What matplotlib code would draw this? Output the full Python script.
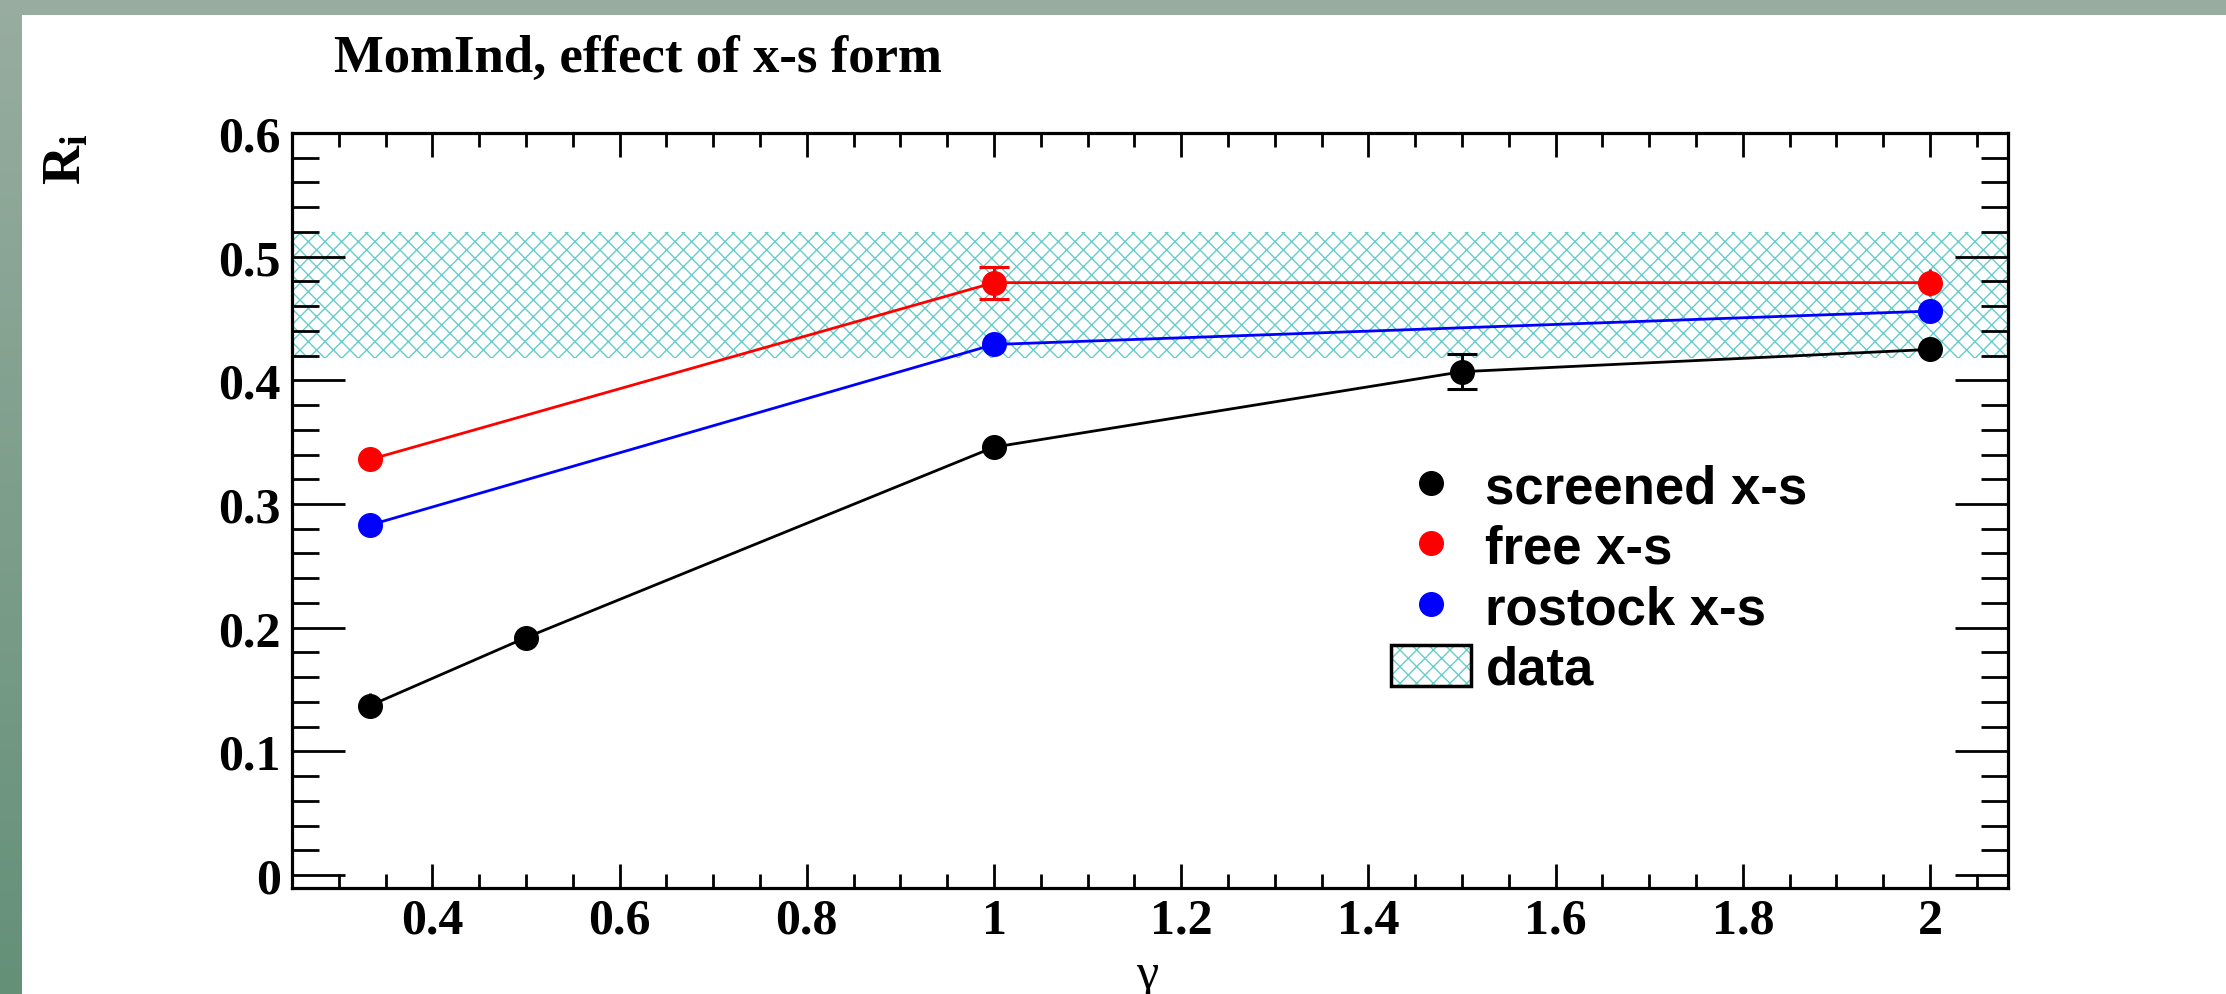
import numpy as np
import matplotlib
matplotlib.use("Agg")
import matplotlib.pyplot as plt
import matplotlib.ticker as mticker
from matplotlib.patches import Rectangle, Patch
from matplotlib.lines import Line2D

plt.rcParams['hatch.linewidth'] = 1.0
plt.rcParams['mathtext.fontset'] = 'custom'
plt.rcParams['mathtext.rm'] = 'Liberation Serif:bold'
plt.rcParams['mathtext.it'] = 'Liberation Serif:italic:bold'

# values
gamma_screened = [1 / 3, 0.5, 1.0, 1.5, 2.0]
r_screened = [0.137, 0.192, 0.346, 0.407, 0.425]
err_screened = [0.010, 0.008, 0.008, 0.014, 0.008]

gamma_free = [1 / 3, 1.0, 2.0]
r_free = [0.336, 0.479, 0.479]
err_free = [0.008, 0.013, 0.011]

gamma_rostock = [1 / 3, 1.0, 2.0]
r_rostock = [0.283, 0.429, 0.456]
err_rostock = [0.006, 0.006, 0.009]

data_band = (0.418, 0.520)

series = [
    ("screened x-s", gamma_screened, r_screened, err_screened, "black"),
    ("free x-s", gamma_free, r_free, err_free, "red"),
    ("rostock x-s", gamma_rostock, r_rostock, err_rostock, "blue"),
]

W, H = 2226, 995
fig = plt.figure(figsize=(W / 100, H / 100), dpi=100, facecolor="white")

# slide-like green frame (top band + left gradient band)
top_col = np.array([152, 173, 160]) / 255
bot_col = np.array([100, 144, 120]) / 255
band_ax = fig.add_axes([0, 0, 22 / W, 1])
grad = np.linspace(0, 1, 200)[:, None, None]
band_ax.imshow(top_col * (1 - grad) + bot_col * grad, aspect="auto", extent=(0, 1, 0, 1), origin="upper")
band_ax.axis("off")
fig.patches.append(Rectangle((0, 1 - 16 / H), 1, 16 / H, transform=fig.transFigure,
                             facecolor=top_col, edgecolor="none", zorder=5))

ax = fig.add_axes([292 / W, 1 - 889 / H, (2008 - 292) / W, (889 - 134) / H])
ax.set_xlim(0.25, 2.0833)
ax.set_ylim(-0.0105, 0.6)

ax.axhspan(data_band[0], data_band[1], facecolor="none", edgecolor="#66CCCC",
           hatch="xx", linewidth=0, zorder=1)

for label, xs, ys, es, col in series:
    ax.plot(xs, ys, color=col, lw=2.0, zorder=3)
    for x, y, e in zip(xs, ys, es):
        cap = 11 if e > 0.012 else 0
        ax.errorbar([x], [y], yerr=[e], fmt="o", color=col, ms=17, elinewidth=2.2,
                    capsize=cap, capthick=2.2, zorder=4)

# ticks, ROOT style
ax.xaxis.set_major_locator(mticker.MultipleLocator(0.2))
ax.xaxis.set_minor_locator(mticker.MultipleLocator(0.05))
ax.yaxis.set_major_locator(mticker.MultipleLocator(0.1))
ax.yaxis.set_minor_locator(mticker.MultipleLocator(0.02))
fmt = mticker.FuncFormatter(lambda v, p: f"{v:g}")
ax.xaxis.set_major_formatter(fmt)
ax.yaxis.set_major_formatter(fmt)
ax.tick_params(axis="both", which="both", direction="in", top=True, right=True, width=2.0)
ax.tick_params(axis="x", which="major", length=17, pad=7)
ax.tick_params(axis="x", which="minor", length=10)
ax.tick_params(axis="y", which="major", length=38, pad=8)
ax.tick_params(axis="y", which="minor", length=19.5)
for lab in ax.get_xticklabels() + ax.get_yticklabels():
    lab.set_fontfamily("Liberation Serif")
    lab.set_fontweight("bold")
    lab.set_fontsize(36)
for sp in ax.spines.values():
    sp.set_linewidth(2.3)

# titles
fig.text(334 / W, 1 - 72 / H, "MomInd, effect of x-s form", fontsize=38,
         fontfamily="Liberation Serif", fontweight="bold", ha="left", va="baseline")
fig.text(68 / W, 1 - 133 / H, r"R$_\mathrm{i}$", fontsize=39, rotation=90,
         fontfamily="Liberation Serif", fontweight="bold", ha="center", va="top")
fig.text(1147 / W, 1 - 988 / H, "γ", fontsize=36, fontfamily="Liberation Serif",
         ha="center", va="baseline")

# legend
handles = [Line2D([], [], marker="o", ls="none", color=c, ms=17) for _, _, _, _, c in series]
data_handle = (Patch(facecolor="white", edgecolor="#66CCCC", hatch="xx", linewidth=0),
               Patch(facecolor="none", edgecolor="black", linewidth=2.5))
handles.append(data_handle)
labels = [s[0] for s in series] + ["data"]
ax.legend(handles, labels, loc="upper left", bbox_to_anchor=(1391 / W, 1 - 464 / H),
          bbox_transform=fig.transFigure, frameon=False, borderpad=0, borderaxespad=0,
          handlelength=1.52, handleheight=0.81, handletextpad=0.27, labelspacing=0.2,
          prop={"family": "Liberation Sans", "weight": "bold", "size": 38})

fig.savefig("out.png", dpi=100, facecolor="white")
